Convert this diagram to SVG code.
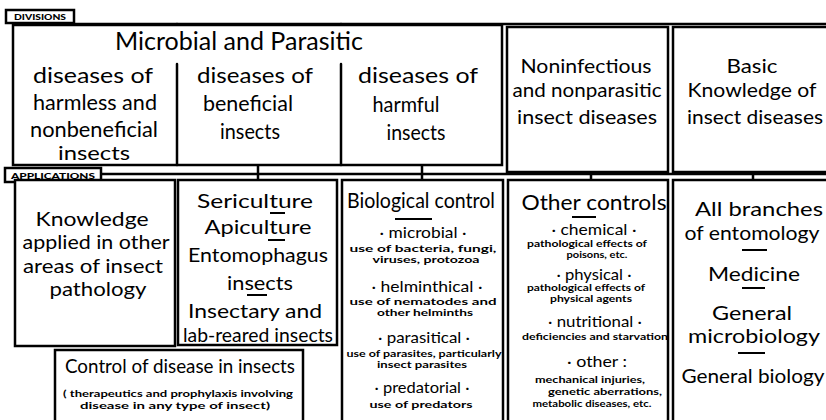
<svg xmlns="http://www.w3.org/2000/svg" width="826" height="420" viewBox="0 0 826 420">
<style>
  text { font-family: Lato, "Noto Sans", "DejaVu Sans", sans-serif; fill: #000; text-anchor: middle; }
  .t1 { font-size: 25px; }
  .t2 { font-size: 22px; }
  .t2b { font-size: 20px; }
  .t3 { font-size: 20px; }
  .t4 { font-size: 15px; }
  .s { font-size: 9.5px; font-weight: bold; }
  .tab { font-size: 8px; font-weight: 900; }
  .box { fill: #fff; stroke: #000; stroke-width: 2.5; }
  .line { fill: none; stroke: #000; stroke-width: 2.5; stroke-linecap: round; }
  .ul { fill: none; stroke: #000; stroke-width: 2; }
</style>
<rect width="826" height="420" fill="#fff"/>

<g id="connectors">
  <line class="line" x1="73" y1="24" x2="826" y2="24"/>
  <line class="line" x1="177" y1="24" x2="177" y2="29"/>
  <line class="line" x1="341" y1="24" x2="341" y2="29"/>
  <line class="line" x1="100" y1="174" x2="826" y2="174"/>
  <line class="line" x1="258" y1="165" x2="258" y2="180"/>
  <line class="line" x1="422" y1="165" x2="422" y2="180"/>
  <line class="line" x1="591" y1="172" x2="591" y2="180"/>
  <line class="line" x1="753" y1="172" x2="753" y2="180"/>
</g>

<g id="divisions-tab">
  <rect class="box" x="6" y="10" width="68" height="13" stroke-width="2"/>
  <text class="tab" x="40" y="20" textLength="52" lengthAdjust="spacingAndGlyphs">DIVISIONS</text>
</g>

<g id="microbial-parasitic">
  <rect class="box" x="13" y="25" width="489" height="140"/>
  <line class="line" x1="177" y1="64" x2="177" y2="165"/>
  <line class="line" x1="341" y1="64" x2="341" y2="165"/>
  <text class="t1" x="239" y="50" textLength="248" lengthAdjust="spacingAndGlyphs">Microbial and Parasitic</text>
</g>

<g id="harmless">
  <text class="t2" x="93" y="83" textLength="120" lengthAdjust="spacingAndGlyphs">diseases of</text>
  <text class="t2" x="95" y="110" textLength="124" lengthAdjust="spacingAndGlyphs">harmless and</text>
  <text class="t2" x="94" y="137" textLength="128" lengthAdjust="spacingAndGlyphs">nonbeneficial</text>
  <text class="t2b" x="94" y="160" textLength="72" lengthAdjust="spacingAndGlyphs">insects</text>
</g>

<g id="beneficial">
  <text class="t2" x="255" y="83" textLength="116" lengthAdjust="spacingAndGlyphs">diseases of</text>
  <text class="t2" x="248" y="111" textLength="90" lengthAdjust="spacingAndGlyphs">beneficial</text>
  <text class="t2" x="250" y="139" textLength="60" lengthAdjust="spacingAndGlyphs">insects</text>
</g>

<g id="harmful">
  <text class="t2" x="418" y="83" textLength="120" lengthAdjust="spacingAndGlyphs">diseases of</text>
  <text class="t2" x="406" y="112" textLength="67" lengthAdjust="spacingAndGlyphs">harmful</text>
  <text class="t2" x="416" y="140" textLength="59" lengthAdjust="spacingAndGlyphs">insects</text>
</g>

<g id="noninfectious">
  <rect class="box" x="507" y="27" width="161" height="145"/>
  <text class="t2b" x="586" y="73" textLength="131" lengthAdjust="spacingAndGlyphs">Noninfectious</text>
  <text class="t2b" x="587" y="97" textLength="149" lengthAdjust="spacingAndGlyphs">and nonparasitic</text>
  <text class="t2b" x="587" y="124" textLength="140" lengthAdjust="spacingAndGlyphs">insect diseases</text>
</g>

<g id="basic">
  <rect class="box" x="673" y="27" width="160" height="145"/>
  <text class="t2b" x="752" y="73" textLength="51" lengthAdjust="spacingAndGlyphs">Basic</text>
  <text class="t2b" x="752" y="97" textLength="129" lengthAdjust="spacingAndGlyphs">Knowledge of</text>
  <text class="t2b" x="755" y="124" textLength="136" lengthAdjust="spacingAndGlyphs">insect diseases</text>
</g>

<g id="applications-tab">
  <rect class="box" x="5" y="168" width="96" height="14" stroke-width="2"/>
  <text class="tab" x="53" y="178.5" textLength="84" lengthAdjust="spacingAndGlyphs">APPLICATIONS</text>
</g>

<g id="knowledge-applied">
  <rect class="box" x="15" y="180" width="160" height="166"/>
  <text class="t2b" x="92" y="226" textLength="113" lengthAdjust="spacingAndGlyphs">Knowledge</text>
  <text class="t2b" x="96" y="249" textLength="147" lengthAdjust="spacingAndGlyphs">applied in other</text>
  <text class="t2b" x="93" y="273" textLength="140" lengthAdjust="spacingAndGlyphs">areas of insect</text>
  <text class="t2b" x="98" y="296" textLength="97" lengthAdjust="spacingAndGlyphs">pathology</text>
</g>

<g id="sericulture">
  <rect class="box" x="178" y="180" width="159" height="165"/>
  <text class="t2b" x="255" y="208" textLength="116" lengthAdjust="spacingAndGlyphs">Sericulture</text>
  <line class="ul" x1="270" y1="213" x2="285" y2="213"/>
  <text class="t2b" x="258" y="234" textLength="107" lengthAdjust="spacingAndGlyphs">Apiculture</text>
  <line class="ul" x1="268" y1="240" x2="285" y2="240"/>
  <text class="t2b" x="258" y="262" textLength="140" lengthAdjust="spacingAndGlyphs">Entomophagus</text>
  <text class="t2b" x="260" y="290" textLength="66" lengthAdjust="spacingAndGlyphs">insects</text>
  <line class="ul" x1="247" y1="295" x2="267" y2="295"/>
  <text class="t2b" x="255" y="318" textLength="134" lengthAdjust="spacingAndGlyphs">Insectary and</text>
  <text class="t2b" x="258" y="342" textLength="150" lengthAdjust="spacingAndGlyphs">lab-reared insects</text>
</g>

<g id="control-disease">
  <rect class="box" x="55" y="350" width="248" height="80"/>
  <text class="t2b" x="180" y="373" textLength="230" lengthAdjust="spacingAndGlyphs">Control of disease in insects</text>
  <text class="s" x="178" y="397" textLength="230" lengthAdjust="spacingAndGlyphs">( therapeutics and prophylaxis involving</text>
  <text class="s" x="175" y="409" textLength="190" lengthAdjust="spacingAndGlyphs">disease  in any type  of  insect)</text>
</g>

<g id="biological-control">
  <rect class="box" x="342" y="180" width="161" height="250"/>
  <text class="t2" x="421" y="208" textLength="148" lengthAdjust="spacingAndGlyphs">Biological control</text>
  <line class="ul" x1="395" y1="219" x2="432" y2="219"/>
  <text class="t4" x="423" y="238" textLength="87" lengthAdjust="spacingAndGlyphs">· microbial ·</text>
  <text class="s" x="423" y="252" textLength="147" lengthAdjust="spacingAndGlyphs">use of bacteria, fungi,</text>
  <text class="s" x="426" y="263" textLength="107" lengthAdjust="spacingAndGlyphs">viruses, protozoa</text>
  <text class="t4" x="427" y="292" textLength="111" lengthAdjust="spacingAndGlyphs">· helminthical ·</text>
  <text class="s" x="423" y="305" textLength="147" lengthAdjust="spacingAndGlyphs">use of  nematodes and</text>
  <text class="s" x="425" y="316" textLength="96" lengthAdjust="spacingAndGlyphs">other helminths</text>
  <text class="t4" x="424" y="343" textLength="92" lengthAdjust="spacingAndGlyphs">· parasitical ·</text>
  <text class="s" x="424" y="357" textLength="155" lengthAdjust="spacingAndGlyphs">use of parasites, particularly</text>
  <text class="s" x="422" y="368" textLength="90" lengthAdjust="spacingAndGlyphs">insect parasites</text>
  <text class="t4" x="422" y="393" textLength="95" lengthAdjust="spacingAndGlyphs">· predatorial ·</text>
  <text class="s" x="421" y="408" textLength="103" lengthAdjust="spacingAndGlyphs">use of predators</text>
</g>

<g id="other-controls">
  <rect class="box" x="508" y="180" width="160" height="250"/>
  <text class="t2" x="594" y="210" textLength="145" lengthAdjust="spacingAndGlyphs">Other controls</text>
  <line class="ul" x1="572" y1="217" x2="596" y2="217"/>
  <text class="t4" x="594" y="235" textLength="85" lengthAdjust="spacingAndGlyphs">· chemical ·</text>
  <text class="s" x="587" y="247" textLength="120" lengthAdjust="spacingAndGlyphs">pathological effects of</text>
  <text class="s" x="597" y="258" textLength="61" lengthAdjust="spacingAndGlyphs">poisons, etc.</text>
  <text class="t4" x="594" y="280" textLength="75" lengthAdjust="spacingAndGlyphs">· physical ·</text>
  <text class="s" x="586" y="291" textLength="118" lengthAdjust="spacingAndGlyphs">pathological effects of</text>
  <text class="s" x="591" y="302" textLength="82" lengthAdjust="spacingAndGlyphs">physical agents</text>
  <text class="t4" x="595" y="327" textLength="94" lengthAdjust="spacingAndGlyphs">· nutritional ·</text>
  <text class="s" x="595" y="340" textLength="146" lengthAdjust="spacingAndGlyphs">deficiencies and starvation</text>
  <text class="t4" x="597" y="367" textLength="60" lengthAdjust="spacingAndGlyphs">· other :</text>
  <text class="s" x="590" y="383" textLength="110" lengthAdjust="spacingAndGlyphs">mechanical injuries,</text>
  <text class="s" x="605" y="395" textLength="114" lengthAdjust="spacingAndGlyphs">genetic  aberrations,</text>
  <text class="s" x="592" y="407" textLength="119" lengthAdjust="spacingAndGlyphs">metabolic diseases, etc.</text>
</g>

<g id="basic-applications">
  <rect class="box" x="673" y="180" width="160" height="250"/>
  <text class="t3" x="759" y="216" textLength="128" lengthAdjust="spacingAndGlyphs">All  branches</text>
  <text class="t3" x="752" y="240" textLength="135" lengthAdjust="spacingAndGlyphs">of entomology</text>
  <line class="ul" x1="742" y1="250" x2="767" y2="250"/>
  <text class="t3" x="754" y="281" textLength="92" lengthAdjust="spacingAndGlyphs">Medicine</text>
  <line class="ul" x1="742" y1="288" x2="765" y2="288"/>
  <text class="t3" x="752" y="320" textLength="80" lengthAdjust="spacingAndGlyphs">General</text>
  <text class="t3" x="754" y="343" textLength="132" lengthAdjust="spacingAndGlyphs">microbiology</text>
  <line class="ul" x1="738" y1="353" x2="765" y2="353"/>
  <text class="t3" x="753" y="383" textLength="143" lengthAdjust="spacingAndGlyphs">General biology</text>
</g>
</svg>
